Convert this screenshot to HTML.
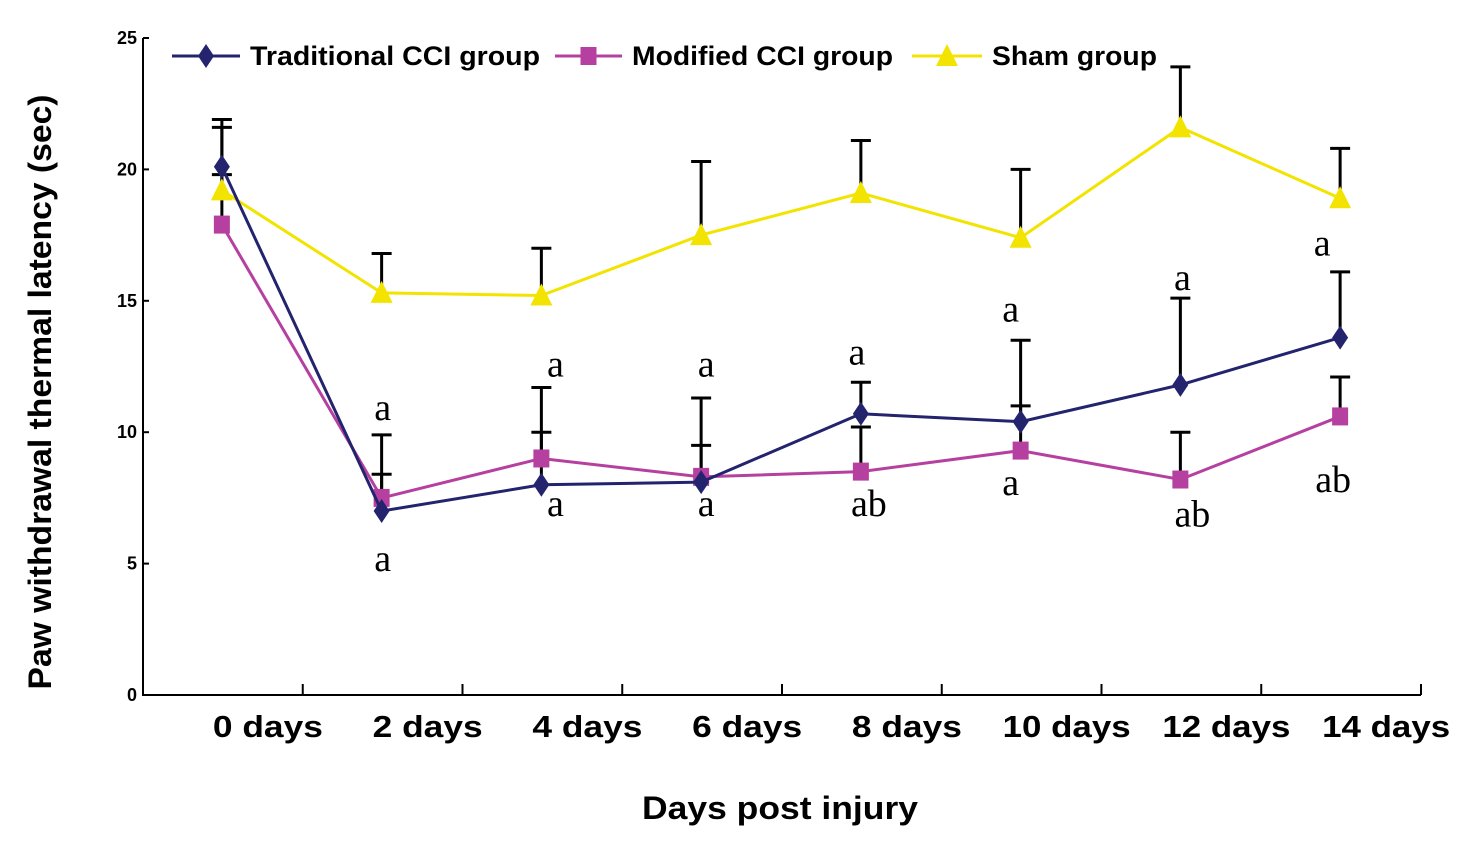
<!DOCTYPE html>
<html><head><meta charset="utf-8"><style>
html,body{margin:0;padding:0;background:#fff;}
svg{display:block;font-family:"Liberation Sans",sans-serif;}
</style></head><body>
<svg id="chart" width="1465" height="857" viewBox="0 0 1465 857"></svg>
<script>
const categories=["0 days","2 days","4 days","6 days","8 days","10 days","12 days","14 days"];
const yTicks=[0,5,10,15,20,25];
const tradMean=[20.1,7.0,8.0,8.1,10.7,10.4,11.8,13.6];
const tradTop=[21.9,8.4,10.0,9.5,11.9,13.5,15.1,16.1];
const modMean=[17.9,7.5,9.0,8.3,8.5,9.3,8.2,10.6];
const modTop=[21.6,9.9,11.7,11.3,10.2,11.0,10.0,12.1];
const shamMean=[19.2,15.3,15.2,17.5,19.1,17.4,21.6,18.9];
const shamTop=[19.8,16.8,17.0,20.3,21.1,20.0,23.9,20.8];
const annotText=["a","a","a","a","a","a","a","ab","a","a","a","ab","a","ab"];
const annotIdx=[1,1,2,2,3,3,4,4,5,5,6,6,7,7];
const annotVal=[10.85,5.1,12.5,7.2,12.5,7.2,12.95,7.2,14.6,8.0,15.8,6.8,17.1,8.1];
const annotDx=[1,1,14,14,5,5,-4,8,-10,-10,2,12,-18,-7];

const NS="http://www.w3.org/2000/svg";
const svg=document.getElementById('chart');
const x0=143,x1=1421,yTop=38,yBot=695;
const band=(x1-x0)/8;
const X=i=>x0+band*(i+0.5)-1;
const Y=v=>yBot-(v/25)*(yBot-yTop);
function mk(tag,attrs,parent){const e=document.createElementNS(NS,tag);for(const k in attrs)e.setAttribute(k,attrs[k]);(parent||svg).appendChild(e);return e;}

let ax=mk('path',{d:`M${x0} ${yTop}V${yBot}H${x1}`,stroke:'#000','stroke-width':2,fill:'none'});


yTicks.forEach(t=>{
  let l=mk('line',{x1:x0,x2:x0+6,y1:Y(t),y2:Y(t),stroke:'#000','stroke-width':2});
  
  
  let tx=mk('text',{x:x0-6,y:Y(t)+6,'text-anchor':'end','font-size':18,'font-weight':'bold'});
  tx.textContent=t;
  
  
});
categories.forEach((c,i)=>{
  const tx0=x0+band*(i+1);
  let l=mk('line',{x1:tx0,x2:tx0,y1:yBot,y2:yBot-11,stroke:'#000','stroke-width':2});
  
  
  let t=mk('text',{x:X(i)+46,y:737,'text-anchor':'middle','font-size':31,'font-weight':'bold',textLength:c.length>6?128:110,lengthAdjust:'spacingAndGlyphs'});
  t.textContent=c;
  
  
});
let xt=mk('text',{x:780,y:819,'text-anchor':'middle','font-size':32,'font-weight':'bold',textLength:276,lengthAdjust:'spacingAndGlyphs'});
xt.textContent="Days post injury";


let yt=mk('text',{x:0,y:0,'text-anchor':'middle','font-size':32,'font-weight':'bold',textLength:595,lengthAdjust:'spacingAndGlyphs',transform:'translate(51,392) rotate(-90)'});
yt.textContent="Paw withdrawal thermal latency (sec)";



function marker(shape,cx,cy,color,g){
  if(shape==='d') return mk('path',{d:`M${cx} ${cy-12}L${cx+8} ${cy}L${cx} ${cy+12}L${cx-8} ${cy}Z`,fill:color},g);
  if(shape==='s') return mk('rect',{x:cx-8,y:cy-9,width:16,height:18,fill:color},g);
  return mk('path',{d:`M${cx} ${cy-12}L${cx+11} ${cy+10}L${cx-11} ${cy+10}Z`,fill:color},g);
}
const series=[
 {name:'sham',mean:shamMean,top:shamTop,color:'#f2e400',shape:'t'},
 {name:'modified',mean:modMean,top:modTop,color:'#b6409f',shape:'s'},
 {name:'traditional',mean:tradMean,top:tradTop,color:'#23236e',shape:'d'}
];
series.forEach(s=>{
  s.mean.forEach((v,i)=>{
    let e=mk('path',{d:`M${X(i)} ${Y(v)}V${Y(s.top[i])}M${X(i)-10} ${Y(s.top[i])}H${X(i)+10}`,stroke:'#000','stroke-width':3,fill:'none'});
    
    
  });
});
series.forEach(s=>{
  const g=mk('g',{});
  
  
  let ln=mk('polyline',{points:s.mean.map((v,i)=>X(i)+','+Y(v)).join(' '),fill:'none',stroke:s.color,'stroke-width':3},g);
  
  
  s.mean.forEach((v,i)=>{
    let m=marker(s.shape,X(i),Y(v),s.color,g);
    
    
  });
});
annotText.forEach((t,k)=>{
  const i=annotIdx[k];
  let tx=mk('text',{x:X(i)+annotDx[k],y:Y(annotVal[k])+10,'text-anchor':'middle','font-size':38,'font-family':'"Liberation Serif",serif'});
  tx.textContent=t;
  
  
});
const leg=mk('g',{});


const legItems=[["Traditional CCI group",172,240,250,290,'#23236e','d'],["Modified CCI group",555,622,632,261,'#b6409f','s'],["Sham group",912,982,992,165,'#f2e400','t']];
legItems.forEach(it=>{
  const g=mk('g',{},leg);
  
  
  mk('line',{x1:it[1],x2:it[2],y1:56,y2:56,stroke:it[5],'stroke-width':3},g);
  marker(it[6],(it[1]+it[2])/2,56,it[5],g);
  const t=mk('text',{x:it[3],y:65,'font-size':27,'font-weight':'bold',textLength:it[4],lengthAdjust:'spacingAndGlyphs'},g);
  t.textContent=it[0];
});
</script>
</body></html>
